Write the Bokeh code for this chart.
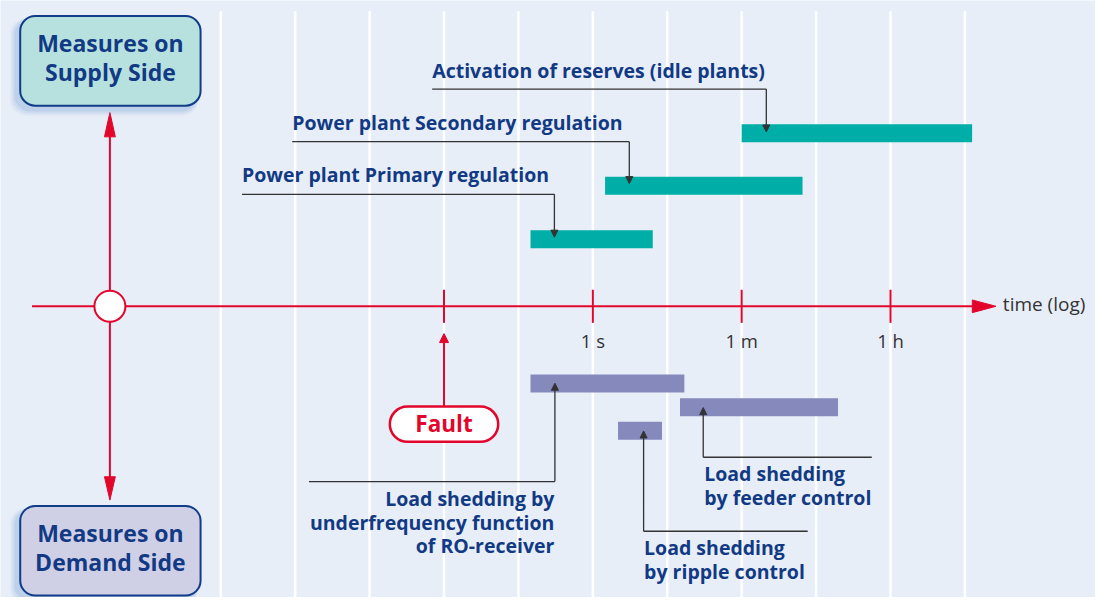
import numpy as np
from bokeh.plotting import figure
from bokeh.models import Range1d, BoxAnnotation, Arrow, NormalHead, Label
from bokeh.embed import file_html
from bokeh.resources import INLINE
from bokeh.core.properties import value

# ---------------- data ----------------
supply_labels = ["Power plant Primary regulation",
                 "Power plant Secondary regulation",
                 "Activation of reserves (idle plants)"]
supply_start = [0.18, 1.4, 60.0]        # seconds
supply_end = [5.2, 320.0, 34000.0]      # seconds

demand_labels = ["Load shedding by\nunderfrequency function\nof RO-receiver",
                 "Load shedding\nby feeder control",
                 "Load shedding\nby ripple control"]
demand_start = [0.18, 11.0, 2.0]
demand_end = [12.4, 850.0, 6.7]

tick_values = [1.0, 60.0, 3600.0]
tick_labels = ["1 s", "1 m", "1 h"]
fault_time = 1.0 / 60.0
axis_title = "time (log)"
box_labels = [["Measures on", "Supply Side"], ["Measures on", "Demand Side"]]

# ---------------- layout helpers ----------------
X_1S = 601.0                       # reference pixel of 1 s
PX_PER_DEC = 151.0 / np.log10(60)  # reference pixels per decade
TXT_DY = -8                        # baseline correction for glyph text
LBL_DY = -10                       # baseline correction for Label annotations


def sx(px):
    """reference pixel -> seconds (layout helper for annotations)"""
    return 10 ** ((px - X_1S) / PX_PER_DEC)


BG = "#e7eef8"
RED = "#e3062c"
TEAL = "#00aea8"
PURPLE = "#8589bb"
NAVY = "#123a84"
DARK = "#333333"
FONT = value("Open Sans")
LBL = "19.5px"

p = figure(width=1095, height=597, output_backend="svg", toolbar_location=None,
           x_axis_type="log", x_axis_location=None, y_axis_location=None,
           x_range=Range1d(sx(0), sx(1111)), y_range=Range1d(613, 0),
           min_border=0, background_fill_color=BG, border_fill_color=BG,
           outline_line_color=None)
p.grid.visible = False

# gridlines
grid = [60 ** (k / 2) for k in range(-5, 6)]
p.segment(x0=grid, y0=[11] * len(grid), x1=grid, y1=[620] * len(grid),
          line_color="white", line_width=2.5)

# supply bars
sup_top = [236, 181, 127]
bar_h = 18.5
p.quad(left=supply_start, right=supply_end, top=sup_top,
       bottom=[t + bar_h for t in sup_top], fill_color=TEAL, line_color=None)

# demand bars
dem_top = [384, 408.5, 432.5]
p.quad(left=demand_start, right=demand_end, top=dem_top,
       bottom=[t + bar_h for t in dem_top], fill_color=PURPLE, line_color=None)

# supply connectors + labels
sup_text_x = [245, 296, 438]
sup_line_y = [199, 145, 91]
sup_attach = [562, 638, 777]
sup_tip = [243, 188, 135]
sup_base = [187, 133, 80]
for i in range(3):
    p.line([sx(sup_text_x[i]), sx(sup_attach[i])], [sup_line_y[i], sup_line_y[i]],
           line_color=DARK, line_width=1.3)
    p.add_layout(Arrow(x_start=sx(sup_attach[i]), y_start=sup_line_y[i],
                       x_end=sx(sup_attach[i]), y_end=sup_tip[i],
                       line_color=DARK, line_width=1.3,
                       end=NormalHead(size=7, fill_color=DARK, line_color=DARK, line_width=1)))
    p.text(x=[sx(sup_text_x[i])], y=[sup_base[i] + TXT_DY], text=[supply_labels[i]],
           text_font=FONT, text_font_style="bold", text_font_size=LBL,
           text_color=NAVY, text_align="left", text_baseline="alphabetic")

# demand connectors + labels
dem_attach = [562.5, 713, 652.5]
dem_tip = [393, 418, 442]
dem_line_y = [494, 469, 545]
dem_line_end = [313, 884, 819]
dem_text_x = [562, 714, 653]
dem_align = ["right", "left", "left"]
dem_base = [519, 494, 570]
for i in range(3):
    p.line([sx(dem_attach[i]), sx(dem_line_end[i])], [dem_line_y[i], dem_line_y[i]],
           line_color=DARK, line_width=1.3)
    p.add_layout(Arrow(x_start=sx(dem_attach[i]), y_start=dem_line_y[i],
                       x_end=sx(dem_attach[i]), y_end=dem_tip[i],
                       line_color=DARK, line_width=1.3,
                       end=NormalHead(size=7, fill_color=DARK, line_color=DARK, line_width=1)))
    lines = demand_labels[i].split("\n")
    p.text(x=[sx(dem_text_x[i])] * len(lines),
           y=[dem_base[i] + TXT_DY + 24.5 * j for j in range(len(lines))], text=lines,
           text_font=FONT, text_font_style="bold", text_font_size=LBL,
           text_color=NAVY, text_align=dem_align[i], text_baseline="alphabetic")

# time axis
p.segment(x0=[sx(32)], y0=[314], x1=[sx(992)], y1=[314], line_color=RED, line_width=2)
p.patch([sx(986), sx(1010), sx(986)], [307.5, 314, 320.5], fill_color=RED, line_color=RED)
ticks_all = [fault_time] + tick_values
p.segment(x0=ticks_all, y0=[297] * 4, x1=ticks_all, y1=[331] * 4, line_color=RED, line_width=2)
p.text(x=tick_values, y=[357 + TXT_DY] * 3, text=tick_labels, text_font=FONT,
       text_font_size="18.5px", text_color=DARK, text_align="center", text_baseline="alphabetic")
p.text(x=[sx(1017)], y=[320 + TXT_DY], text=[axis_title], text_font=FONT,
       text_font_size="19px", text_color=DARK, text_align="left", text_baseline="alphabetic")

# vertical axis through origin
p.segment(x0=[sx(111)], y0=[135], x1=[sx(111)], y1=[495], line_color=RED, line_width=2)
p.patch([sx(105.5), sx(111), sx(116.5)], [140, 115, 140], fill_color=RED, line_color=RED)
p.patch([sx(105.5), sx(111), sx(116.5)], [489, 513, 489], fill_color=RED, line_color=RED)
p.scatter(x=[sx(111)], y=[314], size=31, fill_color="white", line_color=RED, line_width=2)

# fault marker
p.add_layout(Arrow(x_start=fault_time, y_start=418, x_end=fault_time, y_end=342,
                   line_color=RED, line_width=2,
                   end=NormalHead(size=9, fill_color=RED, line_color=RED, line_width=1)))
p.add_layout(BoxAnnotation(left=sx(395), right=sx(505), top=417, bottom=453,
                           fill_color="white", fill_alpha=1, line_color=RED, line_alpha=1,
                           line_width=2.5, border_radius=18))
p.add_layout(Label(x=fault_time, y=444 + LBL_DY, text="Fault", text_font="Open Sans",
                   text_font_style="bold", text_font_size="22.5px", text_color=RED,
                   text_align="center", text_baseline="alphabetic"))

# side boxes with soft shadow
box_tops = [16, 519]
box_fills = ["#b7e1df", "#cfd0e6"]
for bt, fc, lab in zip(box_tops, box_fills, box_labels):
    for k, a in zip([6, 4, 2], [0.10, 0.14, 0.2]):
        p.add_layout(BoxAnnotation(left=sx(20 - 4 - k), right=sx(203 - 4 + k * 0.3),
                                   top=bt + 4 - k * 0.3, bottom=bt + 92 + 4 + k,
                                   fill_color="#7fa6d8", fill_alpha=a, line_color=None,
                                   border_radius=16))
    p.add_layout(BoxAnnotation(left=sx(20), right=sx(203), top=bt, bottom=bt + 92,
                               fill_color=fc, fill_alpha=1, line_color="#103c88",
                               line_alpha=1, line_width=2, border_radius=15))
    for j, t in enumerate(lab):
        p.add_layout(Label(x=sx(111.5), y=bt + 38 + LBL_DY + 29.5 * j, text=t,
                           text_font="Open Sans", text_font_style="bold",
                           text_font_size="23px", text_color=NAVY,
                           text_align="center", text_baseline="alphabetic"))

open("out.html", "w").write(file_html(p, INLINE))
